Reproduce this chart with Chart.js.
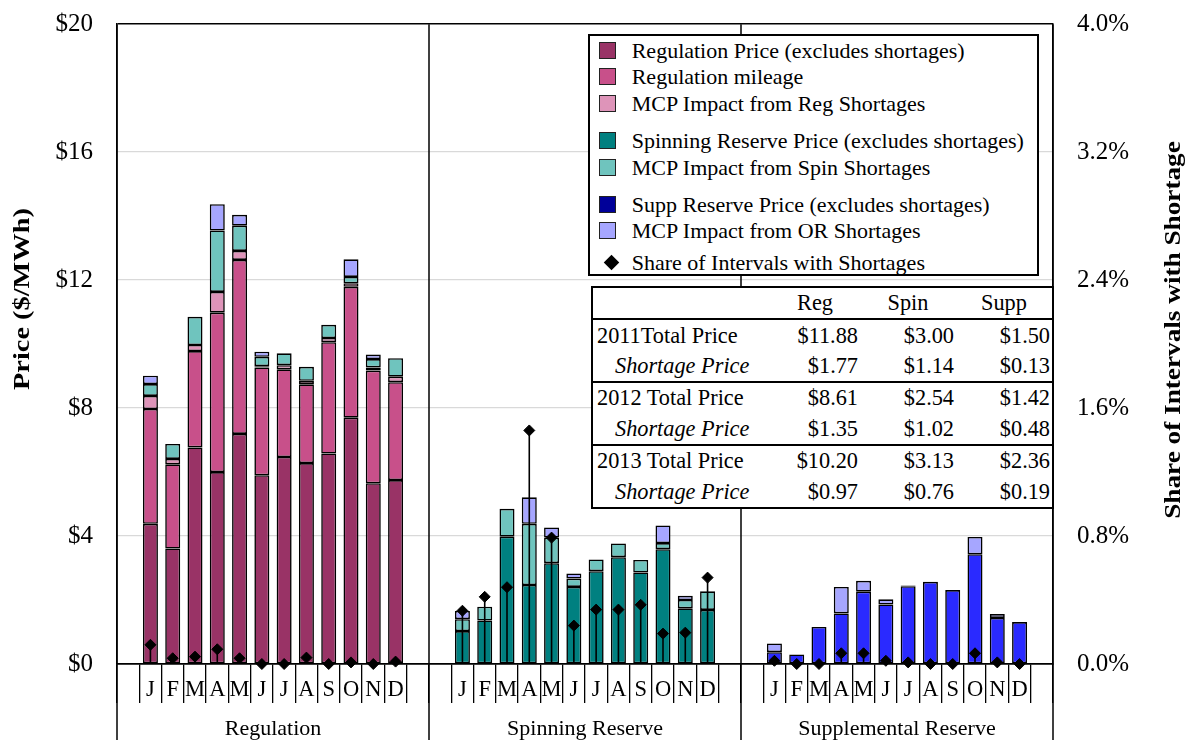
<!DOCTYPE html>
<html><head><meta charset="utf-8">
<script src="https://cdn.jsdelivr.net/npm/chart.js@4.4.1/dist/chart.umd.min.js"></script>
<style>
html,body{margin:0;padding:0;background:#fff;}
#wrap{position:relative;width:1193px;height:740px;overflow:hidden;font-family:"Liberation Serif","Times New Roman",serif;color:#000;}
#c{position:absolute;left:0;top:0;}
#legend{position:absolute;left:588px;top:34px;width:447px;height:238px;border:2px solid #000;background:#fff;}
.lg{position:absolute;left:0;height:26px;line-height:26px;font-size:22px;white-space:nowrap;}
.sw{position:absolute;left:9px;top:4px;width:15px;height:15px;border:1.5px solid #222;}
.dm{position:absolute;left:16px;top:7px;width:11px;height:11px;background:#000;transform:rotate(45deg);}
.lt{position:absolute;left:41.7px;top:0;}
#tbl{position:absolute;left:591px;top:286px;border-collapse:collapse;background:#fff;font-size:22.3px;table-layout:fixed;width:461px;border:2px solid #000;}
#tbl td{padding:0;height:30.4px;line-height:30px;white-space:nowrap;vertical-align:middle;}
#tbl td.v{text-align:right;padding-right:2px;}
#tbl td.h{text-align:center;}
#tbl td.l{padding-left:4px;}
#tbl td.i{padding-left:22px;font-style:italic;}
#tbl tr.sep td{border-top:2px solid #000;}
</style></head>
<body><div id="wrap"><canvas id="c" width="1193" height="740"></canvas><div id="legend"></div><table id="tbl"></table></div>
<script>
// ---- data ----
const months = ['J','F','M','A','M','J','J','A','S','O','N','D'];
const panelNames = ['Regulation','Spinning Reserve','Supplemental Reserve'];

// Regulation panel ($/MWh, stacked increments)
const regPrice        = [4.38, 3.61, 6.77, 6.00, 7.19, 5.90, 6.47, 6.28, 6.58, 7.70, 5.65, 5.75];
const regMileage      = [3.59, 2.63, 3.01, 4.98, 5.44, 3.37, 2.74, 2.46, 3.48, 4.09, 3.52, 3.06];
const regShortage     = [0.41, 0.17, 0.19, 0.65, 0.28, 0.04, 0.13, 0.11, 0.13, 0.11, 0.10, 0.17];
const regSpinShortage = [0.37, 0.47, 0.88, 1.92, 0.79, 0.29, 0.37, 0.44, 0.41, 0.20, 0.26, 0.58];
const regOrShortage   = [0.26, 0,    0,    0.82, 0.34, 0.16, 0,    0,    0,    0.55, 0.14, 0];
const regShare        = [0.12, 0.036, 0.046, 0.092, 0.036, 0, 0, 0.04, 0, 0.01, 0, 0.015];

// Spinning reserve panel
const spinPrice        = [1.03, 1.36, 3.98, 2.47, 3.15, 2.41, 2.90, 3.34, 2.86, 3.59, 1.74, 1.69];
const spinSpinShortage = [0.37, 0.43, 0.87, 1.91, 0.80, 0.26, 0.37, 0.43, 0.39, 0.19, 0.26, 0.58];
const spinOrShortage   = [0.26, 0,    0,    0.83, 0.32, 0.16, 0,    0,    0,    0.55, 0.13, 0];
const spinShare        = [0.333, 0.42, 0.48, 1.46, 0.79, 0.24, 0.34, 0.34, 0.37, 0.19, 0.196, 0.54];

// Supplemental reserve panel
const suppPrice      = [0.37, 0.30, 1.16, 1.58, 2.26, 1.86, 2.43, 2.57, 2.31, 3.43, 1.44, 1.31];
const suppOrShortage = [0.27, 0,    0,    0.83, 0.34, 0.16, 0.02, 0,    0,    0.54, 0.12, 0];
const suppShare      = [0.02, 0, 0, 0.067, 0.067, 0.02, 0.01, 0, 0, 0.067, 0.01, 0];

const yTickStep = 4, yMax = 20;
const y2TickStep = 0.8, y2Max = 4;

// table
const tableHeaders = ['Reg','Spin','Supp'];
const tableRowLabels = ['2011Total Price','Shortage Price','2012 Total Price','Shortage Price','2013 Total Price','Shortage Price'];
const tableReg  = ['$11.88','$1.77','$8.61','$1.35','$10.20','$0.97'];
const tableSpin = ['$3.00','$1.14','$2.54','$1.02','$3.13','$0.76'];
const tableSupp = ['$1.50','$0.13','$1.42','$0.48','$2.36','$0.19'];

// legend entries
const legendLabels = ['Regulation Price (excludes shortages)','Regulation mileage','MCP Impact from Reg Shortages',
  'Spinning Reserve Price (excludes shortages)','MCP Impact from Spin Shortages',
  'Supp Reserve Price (excludes shortages)','MCP Impact from OR Shortages','Share of Intervals with Shortages'];

// ---- styles ----
const C = {reg:'#993366', mil:'#C8508A', regS:'#DE94B9', spin:'#008080', spinS:'#6FC4BE', supp:'#2A2AFF', orS:'#A6A6FF', suppLegend:'#000099'};
const legendColors = [C.reg, C.mil, C.regS, C.spin, C.spinS, C.suppLegend, C.orS, null];
const legendGapBefore = [0,0,0,10.8,0,10.8,0,5];

// ---- build ----
const labels = [];
panelNames.forEach(() => { labels.push(''); months.forEach(m => labels.push(m)); labels.push(''); });
function place(p0, p1, p2, zeroNull) {
  const out = [];
  [p0, p1, p2].forEach(arr => {
    out.push(null);
    for (let i = 0; i < 12; i++) {
      let v = arr ? arr[i] : null;
      if (zeroNull && v === 0) v = null;
      out.push(v);
    }
    out.push(null);
  });
  return out;
}
const barBase = {type:'bar', yAxisID:'y', borderColor:'#000', borderWidth:1.6, borderSkipped:false, order:2};
const share = place(regShare, spinShare, suppShare, false);

const datasets = [
  {...barBase, label:legendLabels[0], data:place(regPrice,null,null,true), backgroundColor:C.reg},
  {...barBase, label:legendLabels[1], data:place(regMileage,null,null,true), backgroundColor:C.mil},
  {...barBase, label:legendLabels[2], data:place(regShortage,null,null,true), backgroundColor:C.regS},
  {...barBase, label:legendLabels[3], data:place(null,spinPrice,null,true), backgroundColor:C.spin},
  {...barBase, label:legendLabels[4], data:place(regSpinShortage,spinSpinShortage,null,true), backgroundColor:C.spinS},
  {...barBase, label:legendLabels[5], data:place(null,null,suppPrice,true), backgroundColor:C.supp},
  {...barBase, label:legendLabels[6], data:place(regOrShortage,spinOrShortage,suppOrShortage,true), backgroundColor:C.orS},
  {type:'bar', label:'stems', yAxisID:'y2', data:share, backgroundColor:'#000', borderWidth:0, maxBarThickness:1.6, order:1},
  {type:'line', label:legendLabels[7], yAxisID:'y2', data:share, showLine:false, pointStyle:'rectRot', pointRadius:5.5,
   pointBackgroundColor:'#000', pointBorderColor:'#000', pointBorderWidth:1, clip:false, order:0}
];

const FONT = '"Liberation Serif","Times New Roman",serif';
Chart.defaults.font.family = FONT;
Chart.defaults.color = '#000';

function drawRotated(ctx, text, cx, cy, sx) {
  ctx.save();
  ctx.translate(cx, cy);
  ctx.rotate(-Math.PI/2);
  ctx.scale(sx, 1);
  ctx.font = 'bold 22.7px ' + FONT;
  ctx.textAlign = 'center'; ctx.textBaseline = 'middle'; ctx.fillStyle = '#000';
  ctx.fillText(text, 0, 0);
  ctx.restore();
}

const framePlugin = {
  id:'frame',
  afterDraw(chart) {
    const {ctx, chartArea, scales:{x}} = chart;
    const H = chart.height;
    ctx.save();
    ctx.strokeStyle = '#000'; ctx.lineWidth = 1.5;
    const xs = [chartArea.left, x.getPixelForValue(13.5), x.getPixelForValue(27.5), chartArea.right];
    xs.forEach(px => { ctx.beginPath(); ctx.moveTo(px, chartArea.top); ctx.lineTo(px, H); ctx.stroke(); });
    ctx.font = '22px ' + FONT; ctx.fillStyle = '#000'; ctx.textAlign = 'center'; ctx.textBaseline = 'middle';
    panelNames.forEach((n, i) => ctx.fillText(n, x.getPixelForValue(i*14 + 6.5), 729));
    ctx.restore();
    drawRotated(ctx, 'Price ($/MWh)', 23, 299, 1.25);
    drawRotated(ctx, 'Share of Intervals with Shortage', 1174, 330, 1.2);
  }
};

new Chart(document.getElementById('c'), {
  data:{labels, datasets},
  options:{
    responsive:false, animation:false, devicePixelRatio:1,
    layout:{padding:{top:0, left:0, right:0, bottom:0}},
    plugins:{legend:{display:false}, tooltip:{enabled:false}},
    datasets:{bar:{grouped:false, barPercentage:0.673, categoryPercentage:1}},
    scales:{
      x:{type:'category', offset:true, stacked:true,
         grid:{offset:true, drawOnChartArea:false, drawTicks:true, tickLength:39, tickColor:'#000', lineWidth:1.3},
         border:{display:true, color:'#000', width:1.5},
         ticks:{autoSkip:false, maxRotation:0, minRotation:0, padding:-26, font:{size:22.5}, color:'#000'},
         afterFit(s){ s.height = 76; }},
      y:{position:'left', stacked:true, min:0, max:yMax,
         ticks:{stepSize:yTickStep, padding:24, font:{size:25, lineHeight:0.01}, color:'#000', callback:v => '$' + v},
         grid:{drawTicks:false, color:c => (c.tick.value === 0 || c.tick.value === yMax) ? '#000' : '#d9d9d9', lineWidth:c => (c.tick.value === 0 || c.tick.value === yMax) ? 1.5 : 1.2},
         border:{display:true, color:'#000', width:1.5},
         afterFit(s){ s.width = 117; }},
      y2:{position:'right', stacked:false, min:0, max:y2Max,
         ticks:{stepSize:y2TickStep, padding:24, font:{size:25, lineHeight:0.01}, color:'#000', callback:v => v.toFixed(1) + '%'},
         grid:{drawOnChartArea:false, drawTicks:false},
         border:{display:true, color:'#000', width:1.5},
         afterFit(s){ s.width = 140; }}
    }
  },
  plugins:[framePlugin]
});

// ---- HTML legend ----
const lg = document.getElementById('legend');
let rowTop = 1.7;
legendLabels.forEach((t, i) => {
  rowTop += legendGapBefore[i];
  const row = document.createElement('div');
  row.className = 'lg'; row.style.top = rowTop + 'px'; row.style.width = '100%';
  const mk = document.createElement('div');
  if (legendColors[i]) { mk.className = 'sw'; mk.style.background = legendColors[i]; }
  else { mk.className = 'dm'; }
  const tx = document.createElement('div'); tx.className = 'lt'; tx.textContent = t;
  row.appendChild(mk); row.appendChild(tx); lg.appendChild(row);
  rowTop += 26.5;
});

// ---- HTML table ----
const tbl = document.getElementById('tbl');
let html = '<colgroup><col style="width:178px"><col style="width:90px"><col style="width:96px"><col style="width:97px"></colgroup>';
html += '<tr><td></td>' + tableHeaders.map(h => '<td class="h">' + h + '</td>').join('') + '</tr>';
tableRowLabels.forEach((l, i) => {
  const sep = (i % 2 === 0) ? ' class="sep"' : '';
  const cls = (i % 2 === 0) ? 'l' : 'i';
  html += '<tr' + sep + '><td class="' + cls + '">' + l + '</td><td class="v">' + tableReg[i] + '</td><td class="v">' + tableSpin[i] + '</td><td class="v">' + tableSupp[i] + '</td></tr>';
});
tbl.innerHTML = html;
</script>
</body></html>
